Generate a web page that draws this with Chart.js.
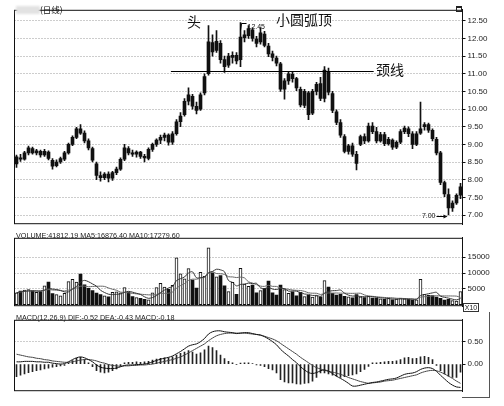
<!DOCTYPE html>
<html>
<head>
<meta charset="utf-8">
<script src="https://cdn.jsdelivr.net/npm/chart.js@4.4.0/dist/chart.umd.min.js"></script>
<style>
  html, body { margin: 0; padding: 0; background: #fff; }
  #wrap { position: relative; width: 504px; height: 406px; overflow: hidden; font-family: 'Liberation Sans', Arial, sans-serif; }
  canvas { position: absolute; left: 0; }
  .t { position: absolute; white-space: nowrap; color: #111; }
  .cn { font-family: 'Noto Sans CJK SC', sans-serif; font-size: 14px; line-height: 14px; }
  .lbl { font-size: 7.2px; line-height: 8px; color: #222; }
</style>
</head>
<body>
<div id="wrap">
  <canvas id="price" width="504" height="228" style="top:3px"></canvas>
  <canvas id="vol" width="504" height="82" style="top:231px"></canvas>
  <canvas id="macd" width="504" height="85" style="top:313px"></canvas>

  <div class="t" style="left:16px;top:6px;width:24px;height:8px;background:#e2e2e2;filter:blur(1px)"></div>
  <div class="t" style="left:40px;top:5px;font-family:'Noto Sans CJK SC',sans-serif;font-size:8.5px;line-height:9px">(日线)</div>
  <div class="t" style="left:456px;top:6px;width:4px;height:3px;border:1px solid #222;border-top-width:2px"></div>

  <div class="t cn" style="left:187px;top:14px">头</div>
  <div class="t cn" style="left:276px;top:12px">小圆弧顶</div>
  <div class="t cn" style="left:376px;top:62px">颈线</div>

  <div class="t lbl" style="left:16px;top:232px">VOLUME:41812.19 MA5:16876.40 MA10:17279.60</div>
  <div class="t lbl" style="left:16px;top:314px">MACD(12,26,9) DIF:-0.52 DEA:-0.43 MACD:-0.18</div>
  <div class="t" style="left:463px;top:303px;width:14px;height:7px;border:1px solid #333;font-size:7px;line-height:7px;text-align:center;color:#222">X10</div>
  <div class="t" style="left:462px;top:312px;width:27px;height:85px;border-right:1px solid #555;border-bottom:1px solid #555"></div>
</div>

<script>
// ---------------------------------------------------------------------
// Data (daily candles, left to right)
// ---------------------------------------------------------------------
const open = [
  8.45, 8.62, 8.58, 8.76, 8.88, 8.76, 8.80, 8.70, 8.78, 8.55,
  8.40, 8.50, 8.58, 8.76, 9.00, 9.20, 9.44, 9.32, 9.10, 8.88,
  8.45, 8.12, 8.06, 8.16, 8.04, 8.20, 8.30, 8.58, 8.88, 8.76,
  8.72, 8.78, 8.66, 8.60, 8.86, 9.00, 9.12, 9.20, 9.26, 9.06,
  9.30, 9.64, 9.84, 10.22, 10.36, 10.08, 10.00, 10.46, 11.00, 11.88,
  11.66, 11.86, 11.40, 11.24, 11.46, 11.52, 11.40, 12.02, 12.08, 12.24,
  11.98, 11.90, 12.12, 11.78, 11.56, 11.44, 11.28, 10.56, 10.80, 10.98,
  10.86, 10.56, 10.10, 10.46, 9.88, 10.50, 10.72, 10.30, 11.06, 10.44,
  9.92, 9.62, 9.22, 8.80, 8.96, 8.72, 9.00, 9.22, 9.10, 9.52,
  9.36, 9.10, 9.28, 9.02, 9.12, 8.92, 9.06, 9.36, 9.44, 9.30,
  9.00, 9.32, 9.50, 9.56, 9.40, 9.14, 8.76, 7.92, 7.58, 7.20,
  7.34, 7.56
];
const high = [
  8.70, 8.72, 8.80, 8.95, 8.92, 8.86, 8.84, 8.86, 8.82, 8.60,
  8.56, 8.64, 8.80, 9.04, 9.24, 9.48, 9.56, 9.38, 9.16, 8.92,
  8.50, 8.22, 8.20, 8.22, 8.24, 8.36, 8.62, 9.00, 8.94, 8.84,
  8.82, 8.80, 8.72, 8.90, 9.04, 9.16, 9.26, 9.32, 9.30, 9.36,
  9.70, 9.90, 10.30, 10.60, 10.42, 10.20, 10.46, 11.00, 12.36, 12.10,
  12.22, 11.94, 11.50, 11.58, 11.62, 11.60, 12.45, 12.22, 12.36, 12.30,
  12.06, 12.30, 12.20, 11.86, 11.64, 11.50, 11.32, 10.86, 11.06, 11.06,
  10.90, 10.62, 10.56, 10.50, 10.56, 10.76, 10.90, 11.20, 11.16, 10.50,
  9.98, 9.70, 9.28, 9.00, 9.04, 8.80, 9.26, 9.30, 9.60, 9.62,
  9.48, 9.34, 9.34, 9.20, 9.16, 9.10, 9.42, 9.52, 9.50, 9.36,
  9.36, 10.20, 9.62, 9.60, 9.44, 9.20, 8.80, 7.96, 7.74, 7.40,
  7.60, 7.90
];
const low = [
  8.35, 8.52, 8.55, 8.70, 8.72, 8.70, 8.64, 8.66, 8.56, 8.30,
  8.36, 8.46, 8.54, 8.72, 8.96, 9.16, 9.28, 9.04, 8.84, 8.50,
  8.00, 7.96, 8.00, 7.94, 7.98, 8.14, 8.26, 8.54, 8.70, 8.66,
  8.64, 8.60, 8.50, 8.56, 8.80, 8.94, 9.02, 9.10, 8.98, 9.00,
  9.26, 9.50, 9.80, 10.12, 10.00, 9.86, 9.96, 10.40, 10.96, 11.50,
  11.60, 11.30, 11.04, 11.18, 11.30, 11.28, 11.20, 11.90, 12.00, 11.92,
  11.76, 11.84, 11.76, 11.48, 11.36, 11.22, 10.50, 10.28, 10.70, 10.76,
  10.52, 10.06, 10.04, 9.70, 9.84, 10.40, 10.24, 10.20, 10.40, 9.90,
  9.56, 9.20, 8.76, 8.72, 8.66, 8.28, 8.96, 9.02, 9.06, 9.30,
  9.04, 9.06, 8.96, 8.98, 8.86, 8.88, 9.02, 9.30, 9.22, 8.88,
  8.96, 9.28, 9.40, 9.34, 9.10, 8.70, 7.86, 7.52, 7.00, 7.10,
  7.30, 7.46
];
const close = [
  8.65, 8.58, 8.76, 8.90, 8.76, 8.82, 8.70, 8.80, 8.60, 8.38,
  8.50, 8.60, 8.76, 9.00, 9.20, 9.44, 9.32, 9.10, 8.90, 8.55,
  8.12, 8.06, 8.16, 8.04, 8.20, 8.30, 8.58, 8.90, 8.76, 8.72,
  8.78, 8.66, 8.62, 8.86, 9.00, 9.12, 9.20, 9.26, 9.06, 9.30,
  9.64, 9.80, 10.22, 10.40, 10.08, 9.96, 10.40, 10.92, 11.90, 11.62,
  11.92, 11.40, 11.20, 11.50, 11.52, 11.36, 12.04, 12.10, 12.28, 12.00,
  11.86, 12.16, 11.80, 11.56, 11.46, 11.30, 10.56, 10.80, 11.00, 10.86,
  10.60, 10.12, 10.50, 9.84, 10.50, 10.70, 10.30, 11.10, 10.48, 9.96,
  9.62, 9.26, 8.80, 8.96, 8.72, 8.46, 9.22, 9.10, 9.52, 9.36,
  9.10, 9.28, 9.02, 9.14, 8.92, 9.06, 9.36, 9.46, 9.30, 9.00,
  9.30, 9.44, 9.56, 9.40, 9.16, 8.76, 7.92, 7.60, 7.20, 7.34,
  7.56, 7.80
];
// volume, in the axis unit (x10)
const volume = [
  3800, 4300, 4600, 4800, 4400, 3900, 4200, 6000, 7200, 3500,
  3200, 2800, 3600, 7300, 8000, 7200, 9700, 6300, 5200, 4500,
  3700, 3200, 2800, 2500, 3900, 4100, 3800, 5400, 4000, 2600,
  2300, 2000, 1700, 1600, 3800, 5400, 6800, 5600, 4900, 6100,
  14800, 9800, 8200, 11400, 7800, 5300, 10200, 9000, 18000, 10100,
  8800, 9200, 6000, 4200, 7100, 3300, 11500, 6500, 5800, 6200,
  3800, 4500, 5200, 7500, 3800, 3100, 6200, 4800, 3600, 4100,
  2800, 3900, 2600, 3000, 2400, 2900, 2500, 7600, 5600, 3600,
  3100, 3300, 2700, 2500, 2200, 3200, 2500, 2300, 2700, 2100,
  2000, 1900, 1700, 2000, 1600, 1800, 2100, 1900, 1700, 1500,
  1600, 8000, 3300, 3000, 2900, 2400, 2000, 1500, 1700, 1300,
  1200, 4180
];
const dif = [
  0.05, 0.05, 0.06, 0.06, 0.06, 0.05, 0.05, 0.04, 0.04, 0.02, 0.01, 0.00,
  0.01, 0.05, 0.10, 0.14, 0.16, 0.14, 0.10, 0.05, -0.02, -0.07, -0.09, -0.10,
  -0.10, -0.09, -0.06, -0.03, -0.02, -0.02, -0.01, -0.01, 0.00, 0.02, 0.05, 0.08,
  0.11, 0.13, 0.15, 0.18, 0.23, 0.28, 0.34, 0.40, 0.43, 0.45, 0.50, 0.57,
  0.67, 0.72, 0.74, 0.74, 0.72, 0.71, 0.70, 0.68, 0.69, 0.70, 0.70, 0.68,
  0.66, 0.65, 0.61, 0.56, 0.50, 0.43, 0.33, 0.25, 0.18, 0.10, 0.03, -0.06,
  -0.13, -0.19, -0.21, -0.19, -0.15, -0.13, -0.16, -0.21, -0.27, -0.32, -0.37, -0.43,
  -0.49, -0.49, -0.47, -0.45, -0.43, -0.41, -0.40, -0.38, -0.36, -0.34, -0.33, -0.31,
  -0.27, -0.23, -0.21, -0.20, -0.17, -0.12, -0.09, -0.08, -0.10, -0.16, -0.25, -0.33,
  -0.41, -0.47, -0.51, -0.52
];
const dea = [
  0.22, 0.20, 0.18, 0.16, 0.15, 0.13, 0.12, 0.10, 0.09, 0.07, 0.06, 0.05,
  0.04, 0.04, 0.05, 0.07, 0.09, 0.10, 0.10, 0.09, 0.07, 0.04, 0.02, -0.01,
  -0.03, -0.04, -0.05, -0.04, -0.04, -0.03, -0.03, -0.02, -0.02, -0.01, 0.00, 0.02,
  0.04, 0.06, 0.08, 0.10, 0.13, 0.16, 0.20, 0.25, 0.30, 0.35, 0.40, 0.45,
  0.52, 0.58, 0.63, 0.66, 0.68, 0.69, 0.69, 0.69, 0.69, 0.69, 0.68, 0.67,
  0.66, 0.64, 0.62, 0.59, 0.56, 0.52, 0.46, 0.40, 0.34, 0.28, 0.22, 0.15,
  0.09, 0.03, -0.03, -0.08, -0.11, -0.14, -0.16, -0.18, -0.20, -0.23, -0.26, -0.30,
  -0.33, -0.36, -0.39, -0.41, -0.43, -0.42, -0.41, -0.40, -0.38, -0.37, -0.36, -0.34,
  -0.32, -0.30, -0.28, -0.26, -0.24, -0.20, -0.17, -0.15, -0.14, -0.15, -0.18, -0.22,
  -0.27, -0.32, -0.38, -0.43
];
const macdHist = [
  -0.28, -0.25, -0.22, -0.19, -0.17, -0.15, -0.13, -0.11, -0.09, -0.07, -0.06, -0.04,
  -0.03, 0.02, 0.08, 0.13, 0.15, 0.10, 0.03, -0.06, -0.15, -0.18, -0.20, -0.18,
  -0.15, -0.11, -0.04, 0.03, 0.04, 0.04, 0.05, 0.04, 0.05, 0.06, 0.09, 0.11,
  0.13, 0.14, 0.14, 0.16, 0.20, 0.24, 0.27, 0.30, 0.27, 0.22, 0.25, 0.32,
  0.40, 0.37, 0.30, 0.20, 0.12, 0.06, 0.03, -0.01, 0.02, 0.03, 0.03, 0.01,
  -0.02, -0.03, -0.06, -0.10, -0.13, -0.20, -0.35, -0.40, -0.42, -0.42, -0.44, -0.45,
  -0.43, -0.42, -0.38, -0.30, -0.20, -0.20, -0.22, -0.25, -0.27, -0.30, -0.28, -0.26,
  -0.24, -0.22, -0.17, -0.12, -0.05, 0.03, 0.03, 0.04, 0.05, 0.06, 0.06, 0.07,
  0.10, 0.14, 0.15, 0.12, 0.13, 0.16, 0.17, 0.15, 0.10, -0.03, -0.15, -0.22,
  -0.27, -0.30, -0.30, -0.18
];

const priceTicks = [7.00, 7.50, 8.00, 8.50, 9.00, 9.50, 10.00, 10.50, 11.00, 11.50, 12.00, 12.50];
const volTicks   = [5000, 10000, 15000];
const macdTicks  = [0.00, 0.50];

// annotations (values / candle indices)
const neckValue = 11.09, neckFrom = 38.6, neckTo = 89.3;
const topIdx = 56, topValue = 12.45;
const lowIdx = 108, lowValue = 7.00;

const days = close.map((_, i) => i + 1);

// volume moving averages (MA5 / MA10) from the bars themselves
function movingAvg(arr, n) {
  return arr.map((_, i) => {
    const s = arr.slice(Math.max(0, i - n + 1), i + 1);
    return s.reduce((a, b) => a + b, 0) / s.length;
  });
}
const ma5  = movingAvg(volume, 5);
const ma10 = movingAvg(volume, 10);

// ---------------------------------------------------------------------
// Shared bits
// ---------------------------------------------------------------------
const TICK_FONT = { family: "'Liberation Sans', Arial, sans-serif", size: 8 };
const GRID_GREY = '#9a9a9a';

const framePlugin = {
  id: 'frame',
  afterDraw(chart) {
    const { ctx, chartArea: a } = chart;
    ctx.save();
    ctx.strokeStyle = '#111';
    ctx.lineWidth = 1;
    ctx.strokeRect(a.left, a.top + 0.5, a.right - a.left, a.bottom - a.top - 1);
    ctx.restore();
  }
};

function yScale(min, max, ticks, fmt, hideZeroGrid) {
  return {
    position: 'right',
    min, max,
    afterBuildTicks: s => { s.ticks = ticks.map(v => ({ value: v })); },
    afterFit: s => { s.width = 41.5; },
    ticks: { callback: fmt, font: TICK_FONT, color: '#222', padding: 2, align: 'center' },
    grid: {
      color: c => (hideZeroGrid && c.tick && c.tick.value === 0) ? 'rgba(0,0,0,0)' : GRID_GREY,
      lineWidth: 1,
      drawTicks: true,
      tickLength: 3,
      tickColor: '#111'
    },
    border: { display: true, color: '#111', width: 1, dash: [1, 2] }
  };
}

function baseOptions(y) {
  return {
    responsive: false,
    animation: false,
    events: [],
    layout: { padding: { left: 14.5, right: 0, top: 0, bottom: 0 } },
    plugins: { legend: { display: false }, tooltip: { enabled: false } },
    scales: {
      x: { display: false, offset: true, grid: { display: false } },
      y
    }
  };
}

// ---------------------------------------------------------------------
// Price panel (candles)
// ---------------------------------------------------------------------
const marksPlugin = {
  id: 'marks',
  afterDatasetsDraw(chart) {
    const { ctx, scales: { x, y } } = chart;
    ctx.save();
    ctx.strokeStyle = '#000';
    ctx.fillStyle = '#111';
    ctx.lineWidth = 1;

    // neckline
    const ny = Math.round(y.getPixelForValue(neckValue)) + 0.5;
    ctx.beginPath();
    ctx.moveTo(x.getPixelForValue(neckFrom), ny);
    ctx.lineTo(x.getPixelForValue(neckTo), ny);
    ctx.stroke();

    // 12.45 high marker
    const hx = x.getPixelForValue(topIdx);
    const hy = Math.round(y.getPixelForValue(topValue)) + 0.5;
    ctx.beginPath();
    ctx.moveTo(hx, hy + 7);
    ctx.lineTo(hx + 1, hy);
    ctx.lineTo(hx + 6, hy);
    ctx.stroke();
    ctx.font = "7px 'Liberation Sans', Arial, sans-serif";
    ctx.textBaseline = 'top';
    ctx.textAlign = 'left';
    ctx.fillText(topValue.toFixed(2), hx + 7, hy);

    // 7.00 low marker
    const lx = x.getPixelForValue(lowIdx);
    const ly = Math.round(y.getPixelForValue(lowValue)) + 1.5;
    ctx.beginPath();
    ctx.moveTo(lx - 12, ly);
    ctx.lineTo(lx - 2, ly);
    ctx.stroke();
    ctx.beginPath();
    ctx.moveTo(lx - 1, ly);
    ctx.lineTo(lx - 5, ly - 2);
    ctx.lineTo(lx - 5, ly + 2);
    ctx.closePath();
    ctx.fill();
    ctx.textBaseline = 'middle';
    ctx.textAlign = 'right';
    ctx.fillText(lowValue.toFixed(2), lx - 13, ly);
    ctx.restore();
  }
};

new Chart(document.getElementById('price'), {
  type: 'bar',
  data: {
    labels: days,
    datasets: [
      {
        label: 'wick',
        data: low.map((l, i) => [l, high[i]]),
        backgroundColor: '#111',
        barThickness: 1,
        grouped: false
      },
      {
        label: 'body',
        data: open.map((o, i) => [o, close[i]]),
        backgroundColor: '#111',
        barThickness: 3,
        grouped: false
      }
    ]
  },
  options: baseOptions(yScale(6.74, 12.81, priceTicks, v => v.toFixed(2), false)),
  plugins: [framePlugin, marksPlugin]
});

// ---------------------------------------------------------------------
// Volume panel
// ---------------------------------------------------------------------
const upDay = close.map((c, i) => c >= open[i]);

new Chart(document.getElementById('vol'), {
  type: 'bar',
  data: {
    labels: days,
    datasets: [
      {
        type: 'line', label: 'MA5', data: ma5,
        borderColor: '#333', borderWidth: 1, pointRadius: 0, tension: 0.3
      },
      {
        type: 'line', label: 'MA10', data: ma10,
        borderColor: '#666', borderWidth: 1, pointRadius: 0, tension: 0.3
      },
      {
        label: 'VOLUME', data: volume,
        backgroundColor: upDay.map(u => u ? '#fff' : '#111'),
        borderColor: '#111',
        borderWidth: upDay.map(u => u ? 1 : 0),
        borderSkipped: false,
        barThickness: 3,
        grouped: false
      }
    ]
  },
  options: baseOptions(yScale(-447, 21132, volTicks, v => String(v), false)),
  plugins: [framePlugin]
});

// ---------------------------------------------------------------------
// MACD panel
// ---------------------------------------------------------------------
new Chart(document.getElementById('macd'), {
  type: 'bar',
  data: {
    labels: days,
    datasets: [
      {
        type: 'line', label: 'DIF', data: dif,
        borderColor: '#111', borderWidth: 1, pointRadius: 0, tension: 0.3
      },
      {
        type: 'line', label: 'DEA', data: dea,
        borderColor: '#444', borderWidth: 1, pointRadius: 0, tension: 0.3
      },
      {
        label: 'MACD', data: macdHist,
        backgroundColor: '#222',
        barThickness: 1,
        grouped: false
      }
    ]
  },
  options: baseOptions(yScale(-0.605, 0.987, macdTicks, v => v.toFixed(2), true)),
  plugins: [framePlugin]
});
</script>
</body>
</html>
